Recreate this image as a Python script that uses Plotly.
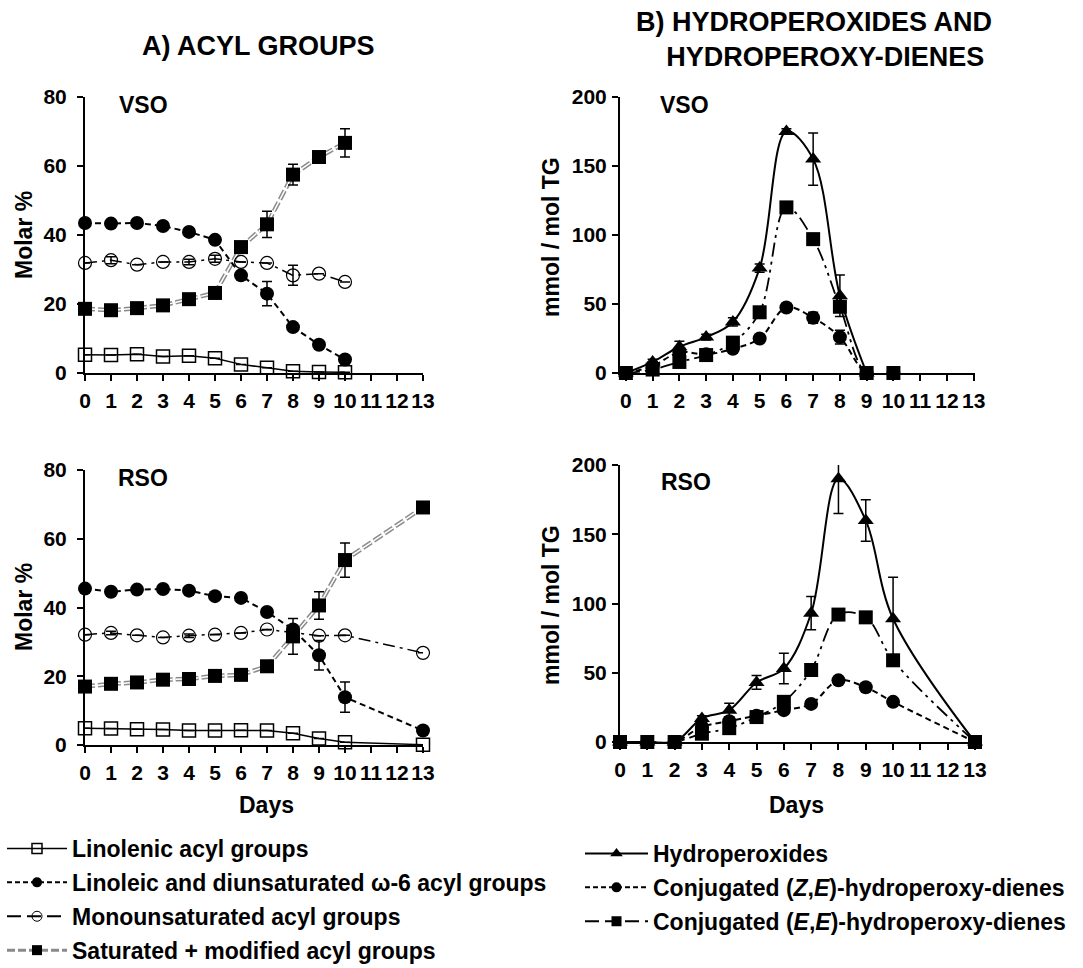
import plotly.graph_objects as go

W, H = 1083, 968
FONT = "Liberation Sans, Arial, sans-serif"

# ---------------- data ----------------
days_vso = [0, 1, 2, 3, 4, 5, 6, 7, 8, 9, 10]
days_rso = [0, 1, 2, 3, 4, 5, 6, 7, 8, 9, 10, 13]
x_ticks = list(range(0, 14))

# A) acyl groups, VSO
lin3_vso = [5.3, 5.2, 5.4, 4.8, 5.0, 4.3, 2.5, 1.5, 0.5, 0.3, 0.2]
lin3_vso_err = [0, 0, 0, 0, 0, 0, 0, 0, 0, 0, 0]
lin2_vso = [43.5, 43.3, 43.5, 42.6, 40.9, 38.6, 28.3, 23.0, 13.3, 8.2, 3.9]
lin2_vso_err = [0, 0, 0, 0, 1.0, 0, 0, 3.5, 0, 0, 0]
mono_vso = [31.9, 32.7, 31.4, 32.2, 32.2, 33.1, 32.2, 31.9, 28.3, 28.8, 26.4]
mono_vso_err = [0, 1.0, 0, 0, 0.8, 1.0, 0, 0, 2.9, 0, 0]
sat_vso = [18.6, 18.2, 18.8, 19.6, 21.4, 23.2, 36.5, 43.1, 57.5, 62.6, 66.7]
sat_vso_err = [0, 0, 0, 0, 0, 0, 0, 3.8, 3.0, 0, 4.1]

# A) acyl groups, RSO
lin3_rso = [4.9, 4.8, 4.6, 4.5, 4.2, 4.2, 4.3, 4.2, 3.4, 1.9, 0.8, 0.1]
lin3_rso_err = [0, 0, 0, 0, 0, 0, 0, 0, 0, 0, 0, 0]
lin2_rso = [45.5, 44.6, 45.2, 45.4, 44.9, 43.3, 42.8, 38.7, 33.6, 26.1, 13.9, 4.2]
lin2_rso_err = [0, 0, 0, 0, 0, 0, 0, 0, 0, 4.3, 4.4, 0]
mono_rso = [32.1, 32.6, 31.9, 31.3, 31.8, 32.1, 32.6, 33.6, 32.6, 31.8, 31.9, 26.8]
mono_rso_err = [0, 0.5, 0, 0, 0.5, 0, 0, 0, 0, 0, 0, 0]
sat_rso = [17.0, 17.8, 18.2, 19.0, 19.2, 20.1, 20.4, 22.9, 31.6, 40.6, 53.8, 69.1]
sat_rso_err = [0, 0, 0, 0, 0, 0, 0, 0, 5.2, 4.0, 5.0, 0]

# B) hydroperoxides, VSO
days_hp_vso = [0, 1, 2, 3, 4, 5, 6, 7, 8, 9]
hp_vso = [0, 8, 19, 26, 37, 76, 175, 155, 56, 0]
hp_vso_err = [0, 2, 4, 2, 3, 3, 2, 19, 15, 0]
ze_vso = [0, 5, 15, 13.5, 17.5, 25, 47.5, 40, 26, 0, 0]
ze_vso_err = [0, 0, 2, 0, 2, 0, 1, 4, 5, 0, 0]
ee_vso = [0, 2.5, 8, 13, 22, 44, 120, 97, 48, 0, 0]
ee_vso_err = [0, 0, 0, 0, 2, 0, 0, 0, 0, 0, 0]

# B) hydroperoxides, RSO
hp_rso = [0, 0, 0, 17, 23, 43, 53, 93, 190, 160, 89, 0]
hp_rso_err = [0, 0, 0, 2, 5, 5, 11, 12, 25, 15, 30, 0]
ze_rso = [0, 0, 0, 11, 15, 19, 23, 27.5, 44.5, 39.5, 29, 0]
ze_rso_err = [0, 0, 0, 0, 0, 0, 0, 0, 0, 0, 0, 0]
ee_rso = [0, 0, 0, 6, 10, 18, 29, 52, 92, 90, 59, 0]
ee_rso_err = [0, 0, 0, 0, 0, 0, 0, 0, 0, 0, 0, 0]

names_a = ["Linolenic acyl groups",
           "Linoleic and diunsaturated ω-6 acyl groups",
           "Monounsaturated acyl groups",
           "Saturated + modified acyl groups"]
names_b = ["Hydroperoxides",
           "Conjugated (<i>Z</i>,<i>E</i>)-hydroperoxy-dienes",
           "Conjugated (<i>E</i>,<i>E</i>)-hydroperoxy-dienes"]

# ---------------- styles ----------------
DASH_LIN2 = "6px,4px"
DASH_MONO = "12px,5px,3px,5px"
DASH_SAT = "10px,3px"
DASH_ZE = "6px,4px"
DASH_EE = "14px,5px,3px,5px,3px,5px"

fig = go.Figure()


def err(arr):
    return dict(type="data", array=arr, visible=True, color="black",
                thickness=1.5, width=5)


def add_acyl(xa, ya, days, lin3, lin3e, lin2, lin2e, mono, monoe, sat, sate):
    kw = dict(xaxis=xa, yaxis=ya, cliponaxis=False)
    # saturated: gray double line
    fig.add_trace(go.Scatter(x=days, y=sat, mode="lines", showlegend=False, hoverinfo="skip",
                             line=dict(color="#8a8a8a", width=4.5, dash=DASH_SAT), **kw))
    fig.add_trace(go.Scatter(x=days, y=sat, mode="lines", showlegend=False, hoverinfo="skip",
                             line=dict(color="white", width=1.5, dash=DASH_SAT), **kw))
    fig.add_trace(go.Scatter(x=days, y=sat, mode="markers", showlegend=False, error_y=err(sate),
                             marker=dict(symbol="square", size=14, color="black"), **kw))
    # linolenic
    fig.add_trace(go.Scatter(x=days, y=lin3, mode="lines+markers", showlegend=False, error_y=err(lin3e),
                             line=dict(color="black", width=1.5),
                             marker=dict(symbol="square-open", size=13, color="black",
                                         line=dict(width=1.5)), **kw))
    # linoleic
    fig.add_trace(go.Scatter(x=days, y=lin2, mode="lines+markers", showlegend=False, error_y=err(lin2e),
                             line=dict(color="black", width=2, dash=DASH_LIN2),
                             marker=dict(symbol="circle", size=14, color="black"), **kw))
    # monounsaturated
    fig.add_trace(go.Scatter(x=days, y=mono, mode="lines+markers", showlegend=False, error_y=err(monoe),
                             line=dict(color="black", width=1.5, dash=DASH_MONO),
                             marker=dict(symbol="circle-open", size=13, color="black",
                                         line=dict(width=1.2)), **kw))


def add_hp(xa, ya, days_hp, hp, hpe, days, ze, zee, ee, eee):
    kw = dict(xaxis=xa, yaxis=ya)
    fig.add_trace(go.Scatter(x=days, y=ze, mode="lines", showlegend=False, hoverinfo="skip",
                             line=dict(color="black", width=2, dash=DASH_ZE, shape="spline"), **kw))
    fig.add_trace(go.Scatter(x=days, y=ee, mode="lines", showlegend=False, hoverinfo="skip",
                             line=dict(color="black", width=1.8, dash=DASH_EE, shape="spline"), **kw))
    fig.add_trace(go.Scatter(x=days_hp, y=hp, mode="lines", showlegend=False, hoverinfo="skip",
                             line=dict(color="black", width=2, shape="spline"), **kw))
    fig.add_trace(go.Scatter(x=days, y=ze, mode="markers", showlegend=False, error_y=err(zee),
                             cliponaxis=False, marker=dict(symbol="circle", size=14, color="black"), **kw))
    fig.add_trace(go.Scatter(x=days, y=ee, mode="markers", showlegend=False, error_y=err(eee),
                             cliponaxis=False, marker=dict(symbol="square", size=14, color="black"), **kw))
    fig.add_trace(go.Scatter(x=days_hp, y=hp, mode="markers", showlegend=False, error_y=err(hpe),
                             cliponaxis=False, marker=dict(symbol="triangle-up", size=14, color="black"), **kw))


add_acyl("x", "y", days_vso, lin3_vso, lin3_vso_err, lin2_vso, lin2_vso_err,
         mono_vso, mono_vso_err, sat_vso, sat_vso_err)
add_acyl("x3", "y3", days_rso, lin3_rso, lin3_rso_err, lin2_rso, lin2_rso_err,
         mono_rso, mono_rso_err, sat_rso, sat_rso_err)
add_hp("x2", "y2", days_hp_vso, hp_vso, hp_vso_err, days_vso, ze_vso, ze_vso_err, ee_vso, ee_vso_err)
add_hp("x4", "y4", days_rso, hp_rso, hp_rso_err, days_rso, ze_rso, ze_rso_err, ee_rso, ee_rso_err)

# legend-only entries
leg_a = [
    dict(line=dict(color="black", width=1.5), marker=dict(symbol="square-open", size=10, color="black", line=dict(width=1.5))),
    dict(line=dict(color="black", width=2, dash="5px,3px"), marker=dict(symbol="circle", size=10, color="black")),
    dict(line=dict(color="black", width=2, dash="14px,6px"), marker=dict(symbol="circle-open", size=10, color="black", line=dict(width=1))),
    dict(line=dict(color="#8a8a8a", width=3, dash="8px,3px"), marker=dict(symbol="square", size=10, color="black")),
]
for i, (nm, st) in enumerate(zip(names_a, leg_a)):
    fig.add_trace(go.Scatter(x=[None], y=[None], mode="lines+markers", name=nm, legend="legend",
                             legendgroup="a%d" % i, xaxis="x", yaxis="y", **st))
leg_b = [
    dict(line=dict(color="black", width=2), marker=dict(symbol="triangle-up", size=11, color="black")),
    dict(line=dict(color="black", width=2, dash="5px,3px"), marker=dict(symbol="circle", size=10, color="black")),
    dict(line=dict(color="black", width=2, dash="14px,6px"), marker=dict(symbol="square", size=10, color="black")),
]
for i, (nm, st) in enumerate(zip(names_b, leg_b)):
    fig.add_trace(go.Scatter(x=[None], y=[None], mode="lines+markers", name=nm, legend="legend2",
                             legendgroup="b%d" % i, xaxis="x2", yaxis="y2", **st))


def px_x(p):
    return p / W


def px_y(p):
    return 1 - p / H


axis_common = dict(showline=True, linecolor="black", linewidth=2, ticks="outside",
                   ticklen=6, tickwidth=2, tickcolor="black", showgrid=False, zeroline=False,
                   tickangle=0,
                   tickfont=dict(family=FONT, size=21, color="black", weight="bold"))

xl = [px_x(85), px_x(423)]
xr = [px_x(620), px_x(975)]
yt = [px_y(373), px_y(97)]
yb = [px_y(745), px_y(470)]
ybr = [px_y(742), px_y(465)]

fig.update_layout(
    width=W, height=H, margin=dict(l=0, r=0, t=0, b=0, autoexpand=False),
    paper_bgcolor="white", plot_bgcolor="white",
    font=dict(family=FONT, color="black"),
    xaxis=dict(domain=xl, range=[0, 13], tickvals=x_ticks, anchor="y", ticklabelstandoff=2, **axis_common),
    yaxis=dict(domain=yt, range=[0, 80], dtick=20, anchor="x", ticklabelstandoff=6, **axis_common),
    xaxis2=dict(domain=xr, range=[-0.22, 13.05], tickvals=x_ticks, anchor="y2", ticklabelstandoff=2, **axis_common),
    yaxis2=dict(domain=yt, range=[0, 200], dtick=50, anchor="x2", ticklabelstandoff=1, **axis_common),
    xaxis3=dict(domain=xl, range=[0, 13], tickvals=x_ticks, anchor="y3", ticklabelstandoff=2, **axis_common),
    yaxis3=dict(domain=yb, range=[0, 80], dtick=20, anchor="x3", ticklabelstandoff=6, **axis_common),
    xaxis4=dict(domain=xr, range=[0, 13], tickvals=x_ticks, anchor="y4", ticklabelstandoff=2, **axis_common),
    yaxis4=dict(domain=ybr, range=[0, 200], dtick=50, anchor="x4", ticklabelstandoff=1, **axis_common),
    legend=dict(x=px_x(2), y=px_y(827), xanchor="left", yanchor="top", bgcolor="rgba(0,0,0,0)",
                font=dict(family=FONT, size=23, color="black", weight="bold"),
                itemwidth=60, tracegroupgap=1, traceorder="grouped"),
    legend2=dict(x=px_x(580), y=px_y(832), xanchor="left", yanchor="top", bgcolor="rgba(0,0,0,0)",
                 font=dict(family=FONT, size=23, color="black", weight="bold"),
                 itemwidth=63, tracegroupgap=1, traceorder="grouped"),
)

ann = []


def txt(t, x, y, size, angle=0):
    ann.append(dict(text=t, x=px_x(x), y=px_y(y), xref="paper", yref="paper", showarrow=False,
                    xanchor="center", yanchor="middle", textangle=angle,
                    font=dict(family=FONT, size=size, color="black", weight="bold")))


txt("A) ACYL GROUPS", 258, 46, 27)
txt("B) HYDROPEROXIDES AND<br>&nbsp;&nbsp;&nbsp;HYDROPEROXY-DIENES", 814, 40, 27)
txt("VSO", 143, 105, 23)
txt("VSO", 684, 105, 23)
txt("RSO", 143, 478, 23)
txt("RSO", 686, 482, 23)
txt("Days", 266, 805, 23)
txt("Days", 796, 805, 23)
txt("Molar %", 24, 235, 23, -90)
txt("Molar %", 24, 607, 23, -90)
txt("mmol / mol TG", 551, 237, 23, -90)
txt("mmol / mol TG", 551, 605, 23, -90)
fig.update_layout(annotations=ann)

fig.write_html("out.html")
